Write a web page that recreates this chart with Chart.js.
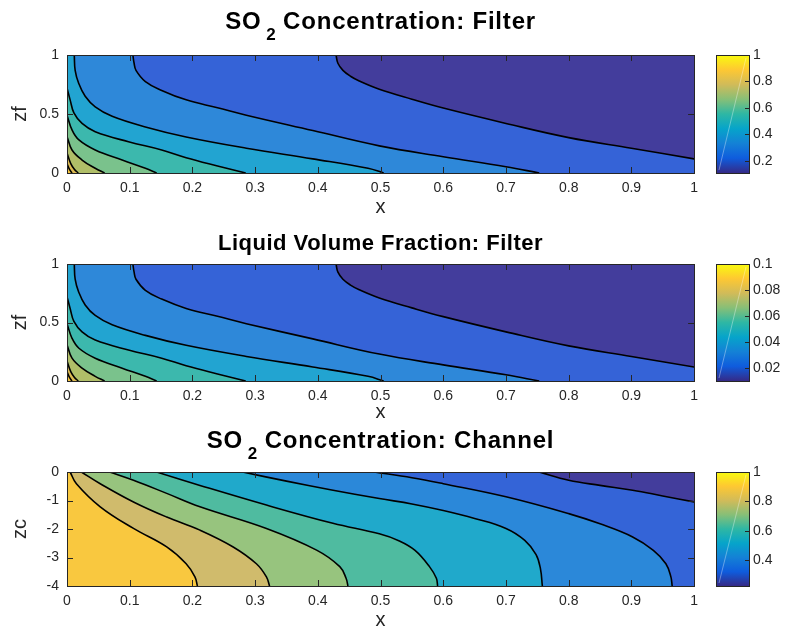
<!DOCTYPE html>
<html>
<head>
<meta charset="utf-8">
<script src="https://cdn.jsdelivr.net/npm/chart.js@4.4.1/dist/chart.umd.min.js"></script>
<style>
  body { margin: 0; background: #fff; }
  #page { position: relative; width: 785px; height: 631px; overflow: hidden; }
  #page canvas { position: absolute; }
</style>
</head>
<body>
<div id="page">
  <canvas id="filterChart" width="705" height="216" style="left:0;top:0"></canvas>
  <canvas id="filterBar" width="85" height="216" style="left:700px;top:0"></canvas>
  <canvas id="liquidChart" width="705" height="205" style="left:0;top:216px"></canvas>
  <canvas id="liquidBar" width="85" height="205" style="left:700px;top:216px"></canvas>
  <canvas id="channelChart" width="705" height="208" style="left:0;top:421px"></canvas>
  <canvas id="channelBar" width="85" height="208" style="left:700px;top:421px"></canvas>
</div>
<script>
// Datos

const xTicks = [0, 0.1, 0.2, 0.3, 0.4, 0.5, 0.6, 0.7, 0.8, 0.9, 1];
const zfTicks = [0, 0.5, 1];
const zcTicks = [-4, -3, -2, -1, 0];

// Curvas de nivel del filtro (x, zf), desde el nivel más bajo hacia la esquina (0,0)
const filterA = [[0.429, 1], [0.432, 0.93], [0.44, 0.87], [0.452, 0.82], [0.466, 0.78], [0.498, 0.71], [0.55, 0.625], [0.6, 0.55], [0.7, 0.42], [0.8, 0.3], [0.9, 0.21], [1, 0.12]];
const filterB = [[0.105, 1], [0.107, 0.93], [0.11, 0.87], [0.125, 0.775], [0.151, 0.7], [0.19, 0.62], [0.24, 0.553], [0.286, 0.49], [0.392, 0.36], [0.498, 0.23], [0.6, 0.138], [0.7, 0.053], [0.753, 0]];
const filterC = [[0.0116, 1], [0.013, 0.87], [0.0186, 0.76], [0.029, 0.65], [0.045, 0.56], [0.072, 0.48], [0.125, 0.39], [0.19, 0.305], [0.286, 0.21], [0.392, 0.12], [0.48, 0.04], [0.505, 0]];
const filterD = [[0, 0.72], [0.005, 0.62], [0.011, 0.51], [0.024, 0.42], [0.045, 0.35], [0.098, 0.265], [0.151, 0.195], [0.19, 0.13], [0.24, 0.06], [0.285, 0]];
const filterE = [[0, 0.49], [0.008, 0.365], [0.019, 0.28], [0.045, 0.195], [0.088, 0.11], [0.125, 0.04], [0.143, 0]];
const filterF = [[0, 0.31], [0.008, 0.195], [0.024, 0.11], [0.045, 0.04], [0.06, 0]];
const filterG = [[0, 0.17], [0.006, 0.08], [0.012, 0.03], [0.018, 0]];
const filterH = [[0, 0.08], [0.004, 0.03], [0.008, 0]];

// La fracción de líquido tiene la misma forma que la concentración en el filtro
const liquidA = filterA, liquidB = filterB, liquidC = filterC, liquidD = filterD;
const liquidE = filterE, liquidF = filterF, liquidG = filterG, liquidH = filterH;

// Curvas de nivel del canal (x, zc), desde arriba a la derecha hacia x = 0
const channel7 = [[0.753, 0], [0.8, -0.29], [0.85, -0.47], [0.902, -0.64], [0.95, -0.84], [1, -1.05]];
const channel6 = [[0.49, 0], [0.55, -0.2], [0.6, -0.41], [0.7, -0.87], [0.8, -1.46], [0.85, -1.82], [0.902, -2.28], [0.935, -2.75], [0.955, -3.22], [0.963, -3.68], [0.965, -4]];
const channel5 = [[0.28, 0], [0.35, -0.32], [0.42, -0.62], [0.498, -0.93], [0.55, -1.12], [0.6, -1.35], [0.65, -1.63], [0.7, -1.98], [0.73, -2.4], [0.748, -2.9], [0.755, -3.4], [0.758, -4]];
const channel4 = [[0.143, 0], [0.212, -0.47], [0.318, -1.16], [0.424, -1.8], [0.498, -2.17], [0.53, -2.42], [0.555, -2.75], [0.578, -3.32], [0.589, -3.73], [0.591, -4]];
const channel3 = [[0.068, 0], [0.106, -0.29], [0.159, -0.75], [0.212, -1.22], [0.318, -1.98], [0.398, -2.74], [0.435, -3.32], [0.445, -3.73], [0.448, -4]];
const channel2 = [[0.023, 0], [0.053, -0.41], [0.106, -1.05], [0.159, -1.58], [0.212, -2.04], [0.265, -2.63], [0.302, -3.22], [0.318, -3.68], [0.323, -4]];
const channel1 = [[0.005, 0], [0.015, -0.41], [0.053, -1.22], [0.106, -1.98], [0.159, -2.63], [0.19, -3.22], [0.204, -3.68], [0.208, -4]];

// Barras de color: rango y marcas
const filterRange = [0.108, 1];
const filterBarTicks = [0.2, 0.4, 0.6, 0.8, 1];
const liquidRange = [0.0102, 0.1];
const liquidBarTicks = [0.02, 0.04, 0.06, 0.08, 0.1];
const channelRange = [0.223, 1];
const channelBarTicks = [0.4, 0.6, 0.8, 1];

// Estilos

const FONT = '"Liberation Sans", Arial, sans-serif';
const INK = '#262626';
const PARULA = ['#352a87', '#0f5cdd', '#1481d6', '#06a4ca', '#2eb7a4', '#87bf77', '#d1bb59', '#fec832', '#f9fb0e'];
// color de fondo + color de cada banda bajo cada curva
const filterColors = ['#433d9c', '#3563d7', '#2e88d9', '#22a4d1', '#3cb8ad', '#7ac28c', '#b0be68', '#dcba52', '#f7c63d'];
const channelColors = ['#433d9c', '#3464d7', '#2b88d9', '#20a9cb', '#4fbba0', '#97c47e', '#d0bb6c', '#f9c83f'];

// Plugins

const frame = {
  id: 'frame',
  beforeDraw(chart, args, opts) {
    if (!opts.background) return;
    const { ctx, chartArea: a } = chart;
    ctx.save();
    ctx.fillStyle = opts.background;
    ctx.fillRect(a.left, a.top, a.right - a.left, a.bottom - a.top);
    ctx.restore();
  },
  afterDraw(chart, args, opts) {
    const { ctx, chartArea: a } = chart;
    const len = opts.tickLength;
    ctx.save();
    if (opts.diagonal) {
      // línea tenue que aparece en la barra de color original
      ctx.strokeStyle = 'rgba(255,255,255,0.35)';
      ctx.beginPath();
      ctx.moveTo(a.left + 3, a.bottom - 3);
      ctx.lineTo(a.right - 3, a.top + 3);
      ctx.stroke();
    }
    ctx.strokeStyle = INK;
    ctx.lineWidth = 1;
    ctx.beginPath();
    Object.values(chart.scales).forEach((s) => {
      if (!s.options.display) return;
      s.ticks.forEach((t) => {
        const p = Math.round(s.getPixelForValue(t.value)) + 0.5;
        if (s.isHorizontal()) {
          ctx.moveTo(p, a.bottom); ctx.lineTo(p, a.bottom - len);
          ctx.moveTo(p, a.top); ctx.lineTo(p, a.top + len);
        } else {
          if (opts.leftTicks) { ctx.moveTo(a.left, p); ctx.lineTo(a.left + len, p); }
          ctx.moveTo(a.right, p); ctx.lineTo(a.right - len, p);
        }
      });
    });
    ctx.stroke();
    ctx.strokeRect(Math.round(a.left) + 0.5, Math.round(a.top) + 0.5, Math.round(a.right - a.left), Math.round(a.bottom - a.top));
    ctx.restore();
  }
};

// Título con subíndice (SO2)
const titulo = {
  id: 'titulo',
  afterDraw(chart, args, opts) {
    const { ctx, chartArea: a } = chart;
    const big = `bold ${opts.size}px ${FONT}`;
    const small = `bold ${Math.round(opts.size * 0.7)}px ${FONT}`;
    ctx.save();
    ctx.fillStyle = '#000';
    ctx.textAlign = 'left';
    ctx.textBaseline = 'alphabetic';
    const setFont = (sub) => {
      ctx.font = sub ? small : big;
      ctx.letterSpacing = sub ? '0px' : opts.spacing + 'px';
    };
    const widths = opts.parts.map(([txt, sub]) => {
      setFont(sub);
      return ctx.measureText(txt).width;
    });
    const total = widths.reduce((s, w) => s + w, 0);
    let x = (a.left + a.right) / 2 - total / 2;
    opts.parts.forEach(([txt, sub], i) => {
      setFont(sub);
      ctx.fillText(txt, x, opts.y + (sub ? opts.size * 0.45 : 0));
      x += widths[i];
    });
    ctx.restore();
  }
};

function toPoints(line) {
  return line.map((p) => ({ x: p[0], y: p[1] }));
}

// Por cada curva: un relleno hacia la esquina de valores altos y el trazo negro
function contourDatasets(lines, colors, top) {
  const fills = lines.map((line, i) => {
    const pts = toPoints(line);
    // si la curva nace en el borde superior, el relleno cubre también la franja izquierda
    if (line[0][0] > 0 && line[0][1] === top) pts.unshift({ x: 0, y: top }, { x: line[0][0], y: top });
    return {
      data: pts,
      borderColor: 'rgba(0,0,0,0)',
      borderWidth: 0,
      backgroundColor: colors[i + 1],
      fill: 'start',
      pointRadius: 0,
      tension: 0.4,
      order: 100 + lines.length - i
    };
  });
  const strokes = lines.map((line) => ({
    data: toPoints(line),
    borderColor: '#000',
    borderWidth: 1.6,
    fill: false,
    pointRadius: 0,
    tension: 0.4,
    order: 0
  }));
  return strokes.concat(fills);
}

function contourChart(id, cfg) {
  return new Chart(document.getElementById(id), {
    type: 'line',
    data: { datasets: contourDatasets(cfg.lines, cfg.colors, cfg.yMax) },
    options: {
      responsive: false,
      animation: false,
      events: [],
      layout: { padding: { top: cfg.padTop, right: 10, left: 0, bottom: 0 } },
      plugins: {
        legend: { display: false },
        tooltip: { enabled: false },
        filler: { drawTime: 'beforeDatasetsDraw' },
        frame: { background: cfg.colors[0], tickLength: 6, leftTicks: true },
        titulo: { parts: cfg.title, size: cfg.titleSize, spacing: cfg.titleSpacing, y: cfg.titleY }
      },
      scales: {
        x: {
          type: 'linear', min: 0, max: 1,
          grid: { display: false, drawTicks: false },
          border: { display: false },
          afterBuildTicks: (s) => { s.ticks = xTicks.map((v) => ({ value: v })); },
          afterFit: (s) => { s.height = cfg.xAxisH; },
          ticks: { color: INK, font: { size: 14, family: FONT }, padding: 7, maxRotation: 0, autoSkip: false, callback: (v) => String(v) },
          title: { display: true, text: 'x', color: INK, font: { size: 20, family: FONT }, padding: { top: 0, bottom: -3 } }
        },
        y: {
          type: 'linear', min: cfg.yMin, max: cfg.yMax,
          grid: { display: false, drawTicks: false },
          border: { display: false },
          afterBuildTicks: (s) => { s.ticks = cfg.yTicks.map((v) => ({ value: v })); },
          afterFit: (s) => { s.width = 67; },
          ticks: { color: INK, font: { size: 14, family: FONT }, padding: 8, autoSkip: false, callback: (v) => String(v) },
          title: { display: true, text: cfg.yLabel, color: INK, font: { size: 20, family: FONT }, padding: { top: 8, bottom: 0 } }
        }
      }
    },
    plugins: [frame, titulo]
  });
}

function parulaGradient(chart) {
  const a = chart.chartArea;
  if (!a) return PARULA[0];
  const g = chart.ctx.createLinearGradient(0, a.bottom, 0, a.top);
  PARULA.forEach((c, i) => g.addColorStop(i / (PARULA.length - 1), c));
  return g;
}

function colorbarChart(id, range, ticks, padTop, padBottom) {
  return new Chart(document.getElementById(id), {
    type: 'bar',
    data: {
      labels: [''],
      datasets: [{
        data: [range],
        backgroundColor: (c) => parulaGradient(c.chart),
        borderWidth: 0,
        barPercentage: 1,
        categoryPercentage: 1
      }]
    },
    options: {
      responsive: false,
      animation: false,
      events: [],
      layout: { padding: { top: padTop, right: 0, left: 16, bottom: padBottom } },
      plugins: {
        legend: { display: false },
        tooltip: { enabled: false },
        frame: { tickLength: 4, leftTicks: false, diagonal: true }
      },
      scales: {
        x: { display: false },
        y: {
          position: 'right', min: range[0], max: range[1],
          grid: { display: false, drawTicks: false },
          border: { display: false },
          afterBuildTicks: (s) => { s.ticks = ticks.map((v) => ({ value: v })); },
          afterFit: (s) => { s.width = 36; },
          ticks: { color: INK, font: { size: 14, family: FONT }, padding: 4, callback: (v) => String(v) }
        }
      }
    },
    plugins: [frame]
  });
}

// Gráficos

contourChart('filterChart', {
  lines: [filterA, filterB, filterC, filterD, filterE, filterF, filterG, filterH],
  colors: filterColors,
  yMin: 0, yMax: 1, yTicks: zfTicks, yLabel: 'zf',
  padTop: 55, xAxisH: 43, titleY: 29, titleSize: 24, titleSpacing: 0.8,
  title: [['SO', false], [' 2', true], [' Concentration: Filter', false]]
});
colorbarChart('filterBar', filterRange, filterBarTicks, 55, 43);

contourChart('liquidChart', {
  lines: [liquidA, liquidB, liquidC, liquidD, liquidE, liquidF, liquidG, liquidH],
  colors: filterColors,
  yMin: 0, yMax: 1, yTicks: zfTicks, yLabel: 'zf',
  padTop: 48, xAxisH: 40, titleY: 34, titleSize: 22, titleSpacing: 0.5,
  title: [['Liquid Volume Fraction: Filter', false]]
});
colorbarChart('liquidBar', liquidRange, liquidBarTicks, 48, 40);

contourChart('channelChart', {
  lines: [channel7, channel6, channel5, channel4, channel3, channel2, channel1],
  colors: channelColors,
  yMin: -4, yMax: 0, yTicks: zcTicks, yLabel: 'zc',
  padTop: 51, xAxisH: 43, titleY: 27, titleSize: 24, titleSpacing: 0.8,
  title: [['SO', false], [' 2', true], [' Concentration: Channel', false]]
});
colorbarChart('channelBar', channelRange, channelBarTicks, 51, 43);
</script>
</body>
</html>
